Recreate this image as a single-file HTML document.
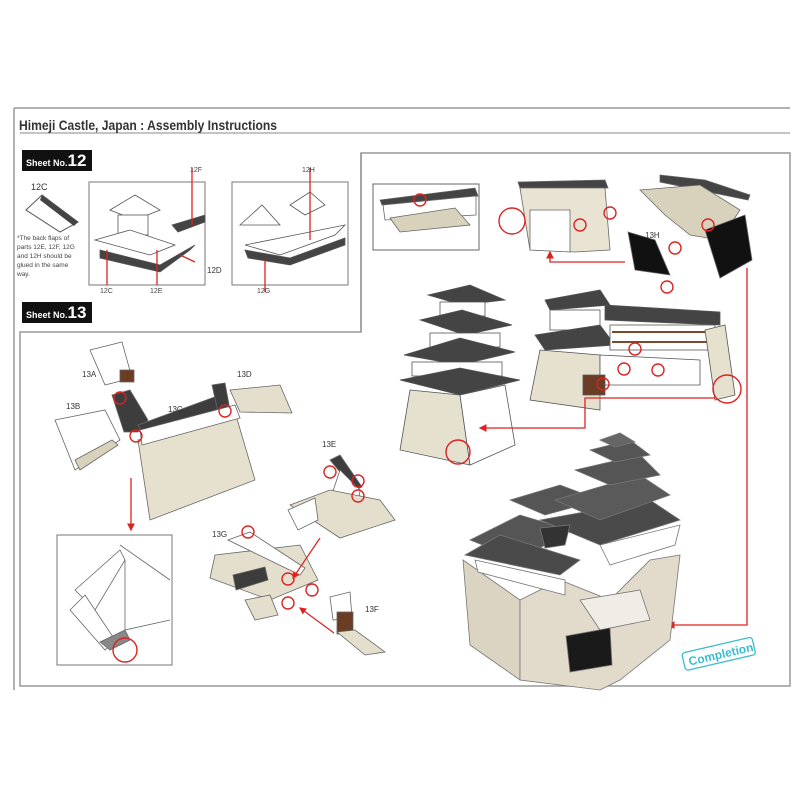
<!DOCTYPE html>
<html><head><meta charset="utf-8"><style>
html,body{margin:0;padding:0;background:#fff;width:800px;height:800px;overflow:hidden}
svg text{font-family:"Liberation Sans",sans-serif}
</style></head><body>
<svg width="800" height="800" viewBox="0 0 800 800" xmlns="http://www.w3.org/2000/svg">
<defs>
<marker id="ar" markerWidth="6" markerHeight="6" refX="5" refY="3" orient="auto"><path d="M0,0 L6,3 L0,6z" fill="#d22"/></marker>
</defs>
<g fill="none" stroke="#999" stroke-width="1.5">
<path d="M14,108 H790"/>
<path d="M14,108 V690"/>
<path d="M20,133 H790" stroke="#888" stroke-width="1"/>
<path d="M361,153 H790 V686 H20 V332 H361 Z"/>
<path d="M361,153 V332"/>
</g>
<text x="19" y="130" font-size="14" font-weight="bold" fill="#333" textLength="258" lengthAdjust="spacingAndGlyphs">Himeji Castle, Japan  :  Assembly Instructions</text>
<rect x="22" y="150" width="70" height="21" fill="#111"/>
<text x="26" y="166" font-size="9" font-weight="bold" fill="#fff">Sheet No.<tspan font-size="17">12</tspan></text>
<rect x="22" y="302" width="70" height="21" fill="#111"/>
<text x="26" y="318" font-size="9" font-weight="bold" fill="#fff">Sheet No.<tspan font-size="17">13</tspan></text>

<!-- 12C -->
<text x="31" y="190" font-size="9" fill="#333">12C</text>
<polygon points="26,210 42,195 78,222 60,232" fill="#fff" stroke="#555"/>
<polygon points="42,195 78,222 74,226 40,200" fill="#444"/>
<text font-size="6.5" fill="#444"><tspan x="17" y="240">*The back flaps of</tspan><tspan x="17" y="249">parts 12E, 12F, 12G</tspan><tspan x="17" y="258">and 12H should be</tspan><tspan x="17" y="267">glued in the same</tspan><tspan x="17" y="276">way.</tspan></text>

<!-- 12 box 1 -->
<rect x="89" y="182" width="116" height="103" fill="#fff" stroke="#777"/>
<g stroke="#555" fill="#fff" stroke-width="0.8">
<polygon points="110,210 135,195 160,210 135,220"/>
<rect x="118" y="215" width="30" height="20"/>
<polygon points="95,240 130,230 175,245 150,255"/>
<polygon points="100,250 160,265 195,245 190,250 160,272 100,258" fill="#444"/>
<polygon points="172,225 205,215 205,222 178,232" fill="#444"/>
</g>
<g stroke="#d22" stroke-width="1.3"><path d="M107,285 V250 M157,285 V250 M192,168 V225 M180,255 L195,262"/></g>
<text x="190" y="172" font-size="7" fill="#444">12F</text>
<text x="100" y="293" font-size="7" fill="#444">12C</text>
<text x="150" y="293" font-size="7" fill="#444">12E</text>
<text x="207" y="273" font-size="8" fill="#333">12D</text>
<!-- 12 box 2 -->
<rect x="232" y="182" width="116" height="103" fill="#fff" stroke="#777"/>
<g stroke="#555" fill="#fff" stroke-width="0.8">
<polygon points="240,225 262,205 280,225"/>
<polygon points="290,205 310,192 325,205 305,215"/>
<polygon points="245,245 295,235 345,225 335,235 280,255"/>
<polygon points="245,250 290,258 345,238 345,245 290,265 248,258" fill="#444"/>
</g>
<g stroke="#d22" stroke-width="1.3"><path d="M310,168 V240 M265,292 V260"/></g>
<text x="302" y="172" font-size="7" fill="#444">12H</text>
<text x="257" y="293" font-size="7" fill="#444">12G</text>

<!-- Sheet 13 parts -->
<g stroke="#666" stroke-width="0.8">
<polygon points="90,350 122,342 132,378 105,385" fill="#fff"/>
<rect x="120" y="370" width="14" height="12" fill="#6b3d25"/>
<polygon points="112,395 130,390 148,420 138,432 124,432" fill="#3d3d3d"/>
<polygon points="138,425 220,395 228,410 145,438" fill="#3d3d3d"/>
<polygon points="212,385 225,383 230,410 218,412" fill="#3d3d3d"/>
<polygon points="230,390 280,385 292,413 240,412" fill="#e3dfcc"/>
<polygon points="55,420 105,410 120,440 75,470" fill="#fff"/>
<polygon points="75,460 112,440 118,445 80,470" fill="#d8d2bc"/>
<polygon points="138,440 235,412 255,480 150,520" fill="#e6e1cf"/>
<polygon points="140,430 235,405 240,418 142,445" fill="#fff"/>
</g>
<g fill="none" stroke="#d22" stroke-width="1.4">
<circle cx="120" cy="398" r="6"/><circle cx="136" cy="436" r="6"/><circle cx="225" cy="411" r="6"/>
</g>
<text x="82" y="377" font-size="8" fill="#333">13A</text>
<text x="66" y="409" font-size="8" fill="#333">13B</text>
<text x="168" y="412" font-size="8" fill="#333">13C</text>
<text x="237" y="377" font-size="8" fill="#333">13D</text>
<path d="M131,478 V530" stroke="#d22" stroke-width="1.3" marker-end="url(#ar)"/>
<rect x="57" y="535" width="115" height="130" fill="#fff" stroke="#777"/>
<g stroke="#666" fill="#fff" stroke-width="0.8">
<polygon points="75,590 120,550 125,560 95,610"/>
<polygon points="70,610 85,595 115,640 105,650"/>
<path d="M120,545 L170,580 M125,560 V630 L170,620" fill="none"/>
<polygon points="100,642 125,630 130,640 110,650" fill="#888"/>
</g>
<circle cx="125" cy="650" r="12" fill="none" stroke="#d22" stroke-width="1.4"/>

<text x="322" y="447" font-size="8" fill="#333">13E</text>
<g stroke="#666" stroke-width="0.8">
<polygon points="330,460 340,455 362,487 355,490" fill="#3d3d3d"/>
<polygon points="340,470 360,490 358,510 330,500" fill="#fff"/>
<polygon points="290,505 330,490 380,500 395,520 340,538" fill="#e3dfcc"/>
<polygon points="288,510 315,498 318,520 298,530" fill="#fff"/>
<polygon points="215,555 300,545 318,580 270,600 210,578" fill="#e3dfcc"/>
<polygon points="228,540 250,532 305,568 300,575" fill="#fff"/>
<polygon points="233,575 265,567 268,580 236,590" fill="#3d3d3d"/>
<polygon points="245,600 270,595 278,615 255,620" fill="#e3dfcc"/>
<polygon points="330,597 350,592 352,618 333,620" fill="#fff"/>
<rect x="337" y="612" width="16" height="22" fill="#6b3d25"/>
<polygon points="337,632 355,630 385,652 365,655" fill="#e3dfcc"/>
</g>
<g fill="none" stroke="#d22" stroke-width="1.4">
<circle cx="330" cy="472" r="6"/><circle cx="358" cy="481" r="6"/><circle cx="358" cy="496" r="6"/>
<circle cx="248" cy="532" r="6"/><circle cx="288" cy="579" r="6"/><circle cx="312" cy="590" r="6"/><circle cx="288" cy="603" r="6"/>
</g>
<text x="212" y="537" font-size="8" fill="#333">13G</text>
<text x="365" y="612" font-size="8" fill="#333">13F</text>
<path d="M320,538 L293,578" stroke="#d22" stroke-width="1.2" marker-end="url(#ar)"/>
<path d="M334,633 L300,608" stroke="#d22" stroke-width="1.2" marker-end="url(#ar)"/>

<!-- right panel top -->
<rect x="373" y="184" width="106" height="66" fill="#fff" stroke="#666"/>
<g stroke="#666" stroke-width="0.8">
<polygon points="380,200 475,188 478,196 382,205" fill="#444"/>
<polygon points="383,205 476,196 476,215 385,220" fill="#fff"/>
<polygon points="390,218 455,208 470,225 400,232" fill="#d8d2bc"/>
</g>
<circle cx="420" cy="200" r="6" fill="none" stroke="#d22" stroke-width="1.4"/>
<g stroke="#666" stroke-width="0.8">
<polygon points="518,182 605,180 608,188 520,188" fill="#444"/>
<polygon points="520,188 605,188 610,250 575,252 530,250" fill="#e8e3d2"/>
<polygon points="530,210 570,210 570,252 530,250" fill="#fff"/>
<polygon points="660,175 705,180 750,195 748,200 660,182" fill="#444"/>
<polygon points="640,190 700,185 740,210 720,240 690,235 665,215" fill="#d8d2bc"/>
<polygon points="628,232 655,240 670,275 635,270" fill="#111"/>
<polygon points="705,230 745,215 752,260 720,278" fill="#111"/>
</g>
<text x="645" y="238" font-size="8" fill="#333">13H</text>
<g fill="none" stroke="#d22" stroke-width="1.4">
<circle cx="512" cy="221" r="13"/><circle cx="580" cy="225" r="6"/><circle cx="610" cy="213" r="6"/>
<circle cx="675" cy="248" r="6"/><circle cx="667" cy="287" r="6"/><circle cx="708" cy="225" r="6"/>
</g>
<path d="M625,262 H550 V252" stroke="#d22" stroke-width="1.3" fill="none" marker-end="url(#ar)"/>
<path d="M747,268 V625 H668" stroke="#d22" stroke-width="1.3" fill="none" marker-end="url(#ar)"/>

<!-- middle left tower -->
<g stroke="#555" stroke-width="0.8">
<polygon points="428,295 470,285 505,300 462,305" fill="#444"/>
<rect x="440" y="302" width="45" height="14" fill="#fff"/>
<polygon points="420,320 462,310 512,325 465,335" fill="#444"/>
<rect x="430" y="333" width="70" height="14" fill="#fff"/>
<polygon points="404,355 460,338 515,352 460,365" fill="#444"/>
<rect x="412" y="362" width="90" height="14" fill="#fff"/>
<polygon points="400,380 460,368 520,380 460,395" fill="#444"/>
<polygon points="410,390 460,395 470,465 400,450" fill="#e6e1cf"/>
<polygon points="460,395 505,385 515,445 470,465" fill="#fff"/>
</g>
<circle cx="458" cy="452" r="12" fill="none" stroke="#d22" stroke-width="1.4"/>
<!-- middle right complex -->
<g stroke="#555" stroke-width="0.8">
<polygon points="545,300 600,290 610,305 550,310" fill="#444"/>
<rect x="550" y="310" width="50" height="20" fill="#fff"/>
<polygon points="535,335 600,325 615,345 545,350" fill="#444"/>
<polygon points="605,305 720,312 720,325 605,320" fill="#444"/>
<rect x="610" y="325" width="105" height="25" fill="#fff"/>
<path d="M612,332 H712 M612,342 H712" stroke="#7a4a2a" stroke-width="2"/>
<polygon points="540,350 600,355 600,410 530,400" fill="#e6e1cf"/>
<polygon points="600,355 700,360 700,385 600,385" fill="#fff"/>
<polygon points="705,330 725,325 735,395 715,400" fill="#e6e1cf"/>
<polygon points="583,375 605,375 605,395 583,395" fill="#6b3d25"/>
</g>
<g fill="none" stroke="#d22" stroke-width="1.4">
<circle cx="635" cy="349" r="6"/><circle cx="624" cy="369" r="6"/><circle cx="658" cy="370" r="6"/>
<circle cx="603" cy="384" r="6"/><circle cx="727" cy="389" r="14"/>
</g>
<path d="M715,398 H585 V428 H480" stroke="#d22" stroke-width="1.3" fill="none" marker-end="url(#ar)"/>

<!-- completion castle -->
<g stroke="#777" stroke-width="0.8">
<polygon points="463,560 520,600 520,680 470,645" fill="#dcd4c2"/>
<polygon points="520,600 560,580 610,600 650,560 680,555 670,640 620,680 600,690 520,680" fill="#e2dbcb"/>
<polygon points="580,600 640,590 650,620 600,630" fill="#f0ede6"/>
<polygon points="470,540 520,515 570,530 520,560" fill="#555"/>
<polygon points="465,555 560,575 580,560 500,535" fill="#4a4a4a"/>
<polygon points="475,560 565,580 565,595 478,572" fill="#fff"/>
<polygon points="510,500 560,485 600,500 545,515" fill="#555"/>
<polygon points="540,520 650,500 680,520 600,545" fill="#4a4a4a"/>
<polygon points="555,500 640,475 670,495 600,520" fill="#5a5a5a"/>
<polygon points="575,470 640,455 660,475 610,485" fill="#555"/>
<polygon points="590,450 630,440 650,455 615,462" fill="#555"/>
<polygon points="600,440 620,433 635,442 615,447" fill="#666"/>
<polygon points="600,545 680,525 675,545 610,565" fill="#fff"/>
<polygon points="540,528 570,525 565,545 545,548" fill="#333"/>
<polygon points="566,636 610,628 612,665 570,672" fill="#1a1a1a"/>
</g>
<g transform="rotate(-13 718 655)">
<rect x="683" y="645" width="72" height="18" rx="3" fill="#fff" stroke="#3bbcd0" stroke-width="1.3"/>
<text x="688" y="659" font-size="12" font-weight="bold" fill="#3bbcd0">Completion</text>
</g>
</svg>
</body></html>
